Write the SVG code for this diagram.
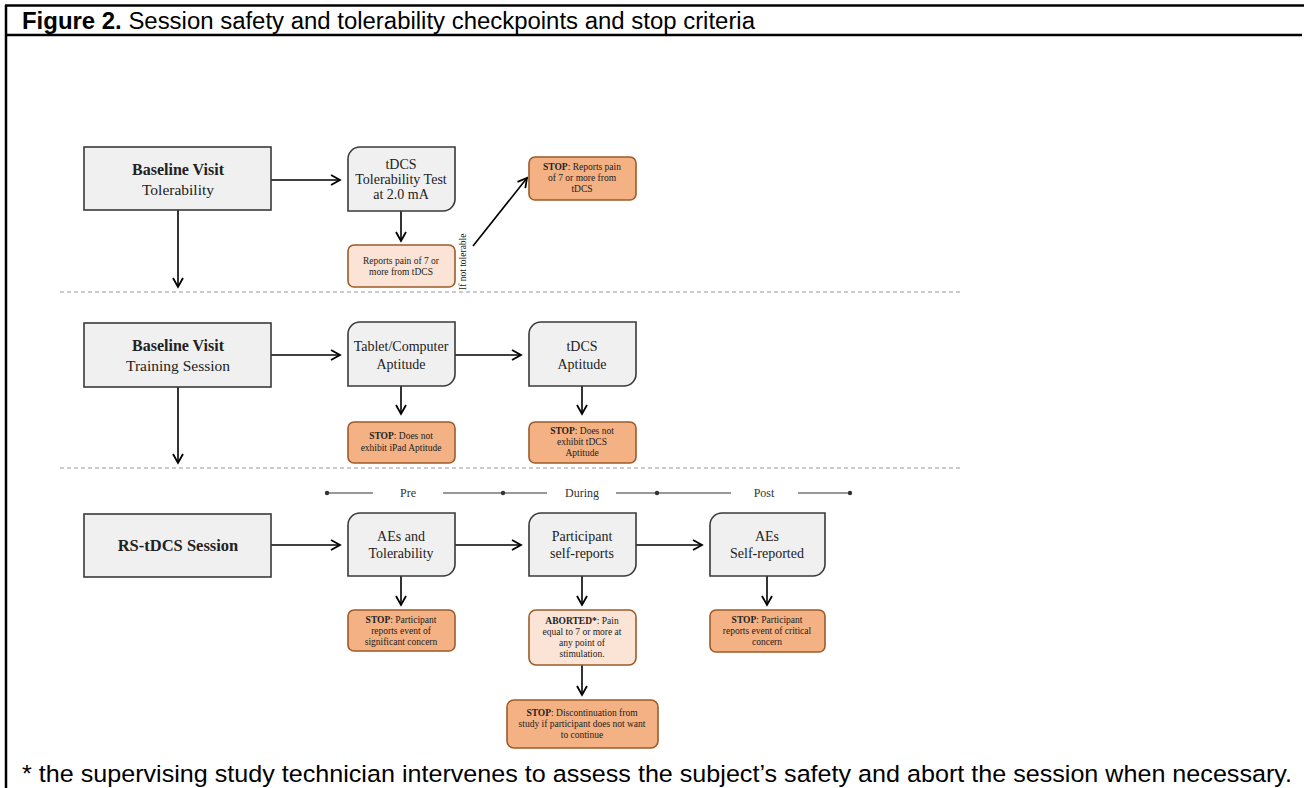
<svg xmlns="http://www.w3.org/2000/svg" width="1304" height="788" viewBox="0 0 1304 788">
<style>
.frame{stroke:#000;stroke-width:2.5;fill:none}
.box{fill:#f0f0f0;stroke:#3a3a3a;stroke-width:1.6}
.stop{fill:#f4b183;stroke:#9c5b2a;stroke-width:1.6}
.light{fill:#fbe4d5;stroke:#9c5b2a;stroke-width:1.6}
.t{font-family:"Liberation Serif",serif;font-size:14px;fill:#222;text-anchor:middle}
.tl2{font-family:"Liberation Serif",serif;font-size:15.5px;fill:#222;text-anchor:middle}
.tb{font-family:"Liberation Serif",serif;font-size:16px;font-weight:bold;fill:#222;text-anchor:middle}
.s{font-family:"Liberation Serif",serif;font-size:9.5px;fill:#222;text-anchor:middle}
.sb{font-weight:bold}
.c{stroke:#000;stroke-width:1.6;fill:none;marker-end:url(#ah)}
.dash{stroke:#999;stroke-width:1;stroke-dasharray:4,3;fill:none}
.tl{stroke:#333;stroke-width:1.2;fill:none}
.tlt{font-family:"Liberation Serif",serif;font-size:12px;fill:#333;text-anchor:middle}
.cap{font-family:"Liberation Sans",Arial,sans-serif;font-size:23.5px;fill:#000}
</style>
<defs>
<marker id="ah" viewBox="0 0 12 12" refX="10" refY="6" markerWidth="12" markerHeight="12" markerUnits="userSpaceOnUse" orient="auto">
<path d="M1,1 L10,6 L1,11" fill="none" stroke="#000" stroke-width="1.8"/>
</marker>
</defs>
<rect width="1304" height="788" fill="#fff"/>
<g id="frame">
<line class="frame" x1="5" y1="5.5" x2="1304" y2="5.5"/>
<line class="frame" x1="5" y1="35" x2="1302" y2="35"/>
<line class="frame" x1="6" y1="5" x2="6" y2="788"/>
<text class="cap" x="22" y="29" textLength="733" lengthAdjust="spacingAndGlyphs"><tspan font-weight="bold">Figure 2.</tspan> Session safety and tolerability checkpoints and stop criteria</text>
<text class="cap" x="22" y="782" style="font-size:24.5px" textLength="1270" lengthAdjust="spacingAndGlyphs">* the supervising study technician intervenes to assess the subject’s safety and abort the session when necessary.</text>
</g>
<g id="separators">
<line class="dash" x1="60" y1="292" x2="962" y2="292"/>
<line class="dash" x1="60" y1="468" x2="962" y2="468"/>
</g>
<g id="timeline">
<line class="tl" x1="327" y1="493" x2="373" y2="493"/>
<line class="tl" x1="443" y1="493" x2="547" y2="493"/>
<line class="tl" x1="616" y1="493" x2="731" y2="493"/>
<line class="tl" x1="798" y1="493" x2="850" y2="493"/>
<circle cx="327" cy="493" r="2.2" fill="#333"/>
<circle cx="503" cy="493" r="2.2" fill="#333"/>
<circle cx="657" cy="493" r="2.2" fill="#333"/>
<circle cx="850" cy="493" r="2.2" fill="#333"/>
<text class="tlt" x="408" y="497">Pre</text>
<text class="tlt" x="582" y="497">During</text>
<text class="tlt" x="764" y="497">Post</text>
</g>
<g id="connectors">
<line class="c" x1="271" y1="180" x2="340" y2="180"/>
<line class="c" x1="401" y1="211" x2="401" y2="241"/>
<line class="c" x1="473" y1="246" x2="527" y2="178"/>
<line class="c" x1="178" y1="210" x2="178" y2="287"/>
<line class="c" x1="271" y1="355" x2="340" y2="355"/>
<line class="c" x1="455" y1="355" x2="521" y2="355"/>
<line class="c" x1="401" y1="386" x2="401" y2="414"/>
<line class="c" x1="582" y1="386" x2="582" y2="414"/>
<line class="c" x1="178" y1="387" x2="178" y2="463"/>
<line class="c" x1="271" y1="545" x2="340" y2="545"/>
<line class="c" x1="455" y1="545" x2="521" y2="545"/>
<line class="c" x1="636" y1="545" x2="702" y2="545"/>
<line class="c" x1="401" y1="576" x2="401" y2="605"/>
<line class="c" x1="582" y1="576" x2="582" y2="605"/>
<line class="c" x1="582" y1="665" x2="582" y2="695"/>
<line class="c" x1="767" y1="576" x2="767" y2="605"/>
<text class="s" transform="translate(466,290) rotate(-90)" style="text-anchor:start">If not tolerable</text>
</g>
<g id="n-baseline-tol">
<rect class="box" x="84" y="147" width="187" height="63"/>
<text class="tb" x="178" y="175">Baseline Visit</text>
<text class="tl2" x="178" y="195">Tolerability</text>
</g>
<g id="n-tol-test">
<path class="box" d="M360,147 H455 V199 A12,12 0 0 1 443,211 H348 V159 A12,12 0 0 1 360,147 Z"/>
<text class="t" x="401" y="169">tDCS</text>
<text class="t" x="401" y="184">Tolerability Test</text>
<text class="t" x="401" y="199">at 2.0 mA</text>
</g>
<g id="n-reports-pain">
<rect class="light" x="348" y="245" width="107" height="42" rx="6"/>
<text class="s" x="401" y="264">Reports pain of 7 or</text>
<text class="s" x="401" y="275">more from tDCS</text>
</g>
<g id="n-stop-pain">
<rect class="stop" x="529" y="157" width="107" height="43" rx="6"/>
<text class="s" x="582" y="170"><tspan class="sb">STOP</tspan>: Reports pain</text>
<text class="s" x="582" y="181">of 7 or more from</text>
<text class="s" x="582" y="192">tDCS</text>
</g>
<g id="n-baseline-train">
<rect class="box" x="84" y="323" width="187" height="64"/>
<text class="tb" x="178" y="351">Baseline Visit</text>
<text class="tl2" x="178" y="371">Training  Session</text>
</g>
<g id="n-tablet">
<path class="box" d="M360,322 H455 V374 A12,12 0 0 1 443,386 H348 V334 A12,12 0 0 1 360,322 Z"/>
<text class="t" x="401" y="351">Tablet/Computer</text>
<text class="t" x="401" y="369">Aptitude</text>
</g>
<g id="n-tdcs-apt">
<path class="box" d="M541,322 H636 V374 A12,12 0 0 1 624,386 H529 V334 A12,12 0 0 1 541,322 Z"/>
<text class="t" x="582" y="351">tDCS</text>
<text class="t" x="582" y="369">Aptitude</text>
</g>
<g id="n-stop-ipad">
<rect class="stop" x="348" y="422" width="107" height="41" rx="6"/>
<text class="s" x="401" y="439"><tspan class="sb">STOP</tspan>:  Does not</text>
<text class="s" x="401" y="451">exhibit iPad Aptitude</text>
</g>
<g id="n-stop-tdcs">
<rect class="stop" x="529" y="422" width="107" height="41" rx="6"/>
<text class="s" x="582" y="434"><tspan class="sb">STOP</tspan>:  Does not</text>
<text class="s" x="582" y="445">exhibit tDCS</text>
<text class="s" x="582" y="456">Aptitude</text>
</g>
<g id="n-rs-session">
<rect class="box" x="84" y="514" width="187" height="63"/>
<text class="tb" x="178" y="551" style="font-size:16.5px">RS-tDCS Session</text>
</g>
<g id="n-aes-tol">
<path class="box" d="M360,513 H455 V564 A12,12 0 0 1 443,576 H348 V525 A12,12 0 0 1 360,513 Z"/>
<text class="t" x="401" y="541">AEs and</text>
<text class="t" x="401" y="558">Tolerability</text>
</g>
<g id="n-participant">
<path class="box" d="M541,513 H636 V564 A12,12 0 0 1 624,576 H529 V525 A12,12 0 0 1 541,513 Z"/>
<text class="t" x="582" y="541">Participant</text>
<text class="t" x="582" y="558">self-reports</text>
</g>
<g id="n-aes-self">
<path class="box" d="M722,513 H825 V564 A12,12 0 0 1 813,576 H710 V525 A12,12 0 0 1 722,513 Z"/>
<text class="t" x="767" y="541">AEs</text>
<text class="t" x="767" y="558">Self-reported</text>
</g>
<g id="n-stop-significant">
<rect class="stop" x="348" y="610" width="107" height="41" rx="6"/>
<text class="s" x="401" y="623"><tspan class="sb">STOP</tspan>:  Participant</text>
<text class="s" x="401" y="634">reports event of</text>
<text class="s" x="401" y="645">significant concern</text>
</g>
<g id="n-aborted">
<rect class="light" x="529" y="610" width="107" height="55" rx="7"/>
<text class="s" x="582" y="624"><tspan class="sb">ABORTED*</tspan>: Pain</text>
<text class="s" x="582" y="635">equal to 7 or more at</text>
<text class="s" x="582" y="646">any point of</text>
<text class="s" x="582" y="657">stimulation.</text>
</g>
<g id="n-stop-discontinue">
<rect class="stop" x="507" y="700" width="151" height="48" rx="7"/>
<text class="s" x="582" y="716"><tspan class="sb">STOP</tspan>:  Discontinuation from</text>
<text class="s" x="582" y="727">study if participant does not want</text>
<text class="s" x="582" y="738">to continue</text>
</g>
<g id="n-stop-critical">
<rect class="stop" x="710" y="610" width="115" height="42" rx="6"/>
<text class="s" x="767" y="623"><tspan class="sb">STOP</tspan>:  Participant</text>
<text class="s" x="767" y="634">reports event of critical</text>
<text class="s" x="767" y="645">concern</text>
</g>
</svg>
